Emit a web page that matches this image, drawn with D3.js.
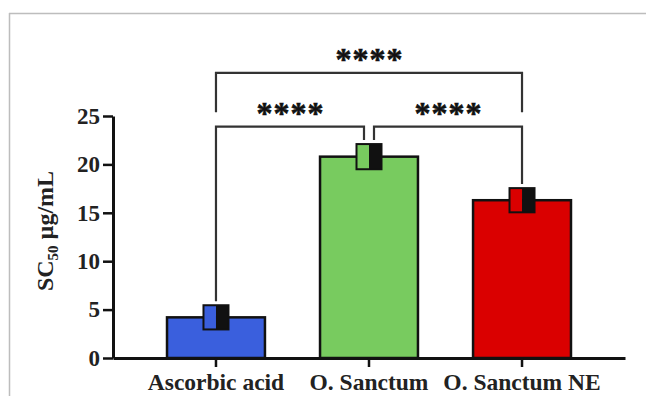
<!DOCTYPE html>
<html><head><meta charset="utf-8">
<script src="https://cdn.jsdelivr.net/npm/d3@7"></script>
<style>
html,body{margin:0;padding:0;background:#fff;}
svg{display:block;}
text{font-family:"Liberation Serif","Times New Roman",serif;font-weight:bold;}
</style></head>
<body>
<svg id="chart" width="646" height="396"></svg>
<script>
const categories = ["Ascorbic acid", "O. Sanctum", "O. Sanctum NE"];
const means = [4.2, 20.8, 16.3];
const errors = [1.25, 1.3, 1.25];
const colors = ["#3a5fdd", "#78cb5f", "#da0000"];
const yTicks = [0, 5, 10, 15, 20, 25];
const comparisons = [
  {from: 0, to: 1, level: 23.9, label: "****", top: false},
  {from: 1, to: 2, level: 23.9, label: "****", top: false},
  {from: 0, to: 2, level: 29.45, label: "****", top: true}
];

const svg = d3.select("#chart");

// frame lines
svg.append("line").attr("x1", 9).attr("x2", 646).attr("y1", 13.5).attr("y2", 13.5)
  .attr("stroke", "#bdbdbd").attr("stroke-width", 1.5);
svg.append("line").attr("x1", 9.5).attr("x2", 9.5).attr("y1", 13).attr("y2", 396)
  .attr("stroke", "#bdbdbd").attr("stroke-width", 1.5);

const x = d3.scaleBand().domain(categories).range([113, 625]).paddingInner(0.36).paddingOuter(0.353);
const y = d3.scaleLinear().domain([0, 25]).range([358, 116]);

const g = svg.append("g");

// bars
g.selectAll("rect.bar").data(categories).join("rect")
  .attr("class", "bar")
  .attr("x", d => x(d))
  .attr("width", x.bandwidth())
  .attr("y", (d, i) => y(means[i]))
  .attr("height", (d, i) => y(0) - y(means[i]))
  .attr("fill", (d, i) => colors[i])
  .attr("stroke", "#111").attr("stroke-width", 2.5);

// error boxes (left half colored, right half black)
const ebW = 25;
categories.forEach((c, i) => {
  const cx = x(c) + x.bandwidth() / 2;
  const y1 = y(means[i] + errors[i]), y0 = y(means[i] - errors[i]);
  g.append("rect").attr("x", cx - ebW / 2).attr("width", ebW / 2).attr("y", y1).attr("height", y0 - y1)
    .attr("fill", colors[i]);
  g.append("rect").attr("x", cx).attr("width", ebW / 2).attr("y", y1).attr("height", y0 - y1)
    .attr("fill", "#111");
  g.append("rect").attr("x", cx - ebW / 2).attr("width", ebW).attr("y", y1).attr("height", y0 - y1)
    .attr("fill", "none").attr("stroke", "#111").attr("stroke-width", 2);
});

// axes
const yAxis = d3.axisLeft(y).tickValues(yTicks).tickSize(10).tickSizeOuter(0).tickPadding(3);
const yg = svg.append("g").attr("transform", "translate(113,0)").call(yAxis);
yg.select(".domain").attr("stroke", "#111").attr("stroke-width", 3);
yg.selectAll(".tick line").attr("stroke", "#111").attr("stroke-width", 2.5);
yg.selectAll(".tick text").attr("font-size", 23).attr("fill", "#222")
  .style("font-family", '"Liberation Serif",serif').style("font-weight", "bold");

const xAxis = d3.axisBottom(x).tickSize(9).tickSizeOuter(0).tickPadding(6);
const xg = svg.append("g").attr("transform", "translate(0,358)").call(xAxis);
xg.select(".domain").attr("stroke", "#111").attr("stroke-width", 3);
xg.selectAll(".tick line").attr("stroke", "#111").attr("stroke-width", 2.5);
xg.selectAll(".tick text").attr("font-size", 23.5).attr("fill", "#222")
  .style("font-family", '"Liberation Serif",serif').style("font-weight", "bold");

// y label
const yl = svg.append("text")
  .attr("transform", "translate(53,231) rotate(-90)")
  .attr("text-anchor", "middle").attr("font-size", 24).attr("fill", "#222");
yl.append("tspan").text("SC");
yl.append("tspan").text("50").attr("font-size", 15).attr("dy", 5);
yl.append("tspan").text(" µg/mL").attr("dy", -5);

// significance brackets
const center = c => x(categories[c]) + x.bandwidth() / 2;
const legGap = 4;
comparisons.forEach(cmp => {
  let x1 = center(cmp.from), x2 = center(cmp.to);
  if (!cmp.top) {
    if (cmp.to === 1) x2 -= 5;
    if (cmp.from === 1) x1 += 5;
  }
  const yb = y(cmp.level);
  let yEnd1, yEnd2;
  if (cmp.top) {
    yEnd1 = yEnd2 = y(25.4);
  } else {
    yEnd1 = y(means[cmp.from] + errors[cmp.from]) - legGap;
    yEnd2 = y(means[cmp.to] + errors[cmp.to]) - legGap;
  }
  g.append("path")
    .attr("d", `M${x1},${yEnd1}V${yb}H${x2}V${yEnd2}`)
    .attr("fill", "none").attr("stroke", "#333").attr("stroke-width", 2.2);
  g.append("text").attr("x", (x1 + x2) / 2 + 0.5).attr("y", yb - 3)
    .attr("text-anchor", "middle").attr("font-size", 32).attr("letter-spacing", 1)
    .attr("stroke", "#111").attr("stroke-width", 0.6)
    .attr("fill", "#111").text(cmp.label);
});
</script>
</body></html>
